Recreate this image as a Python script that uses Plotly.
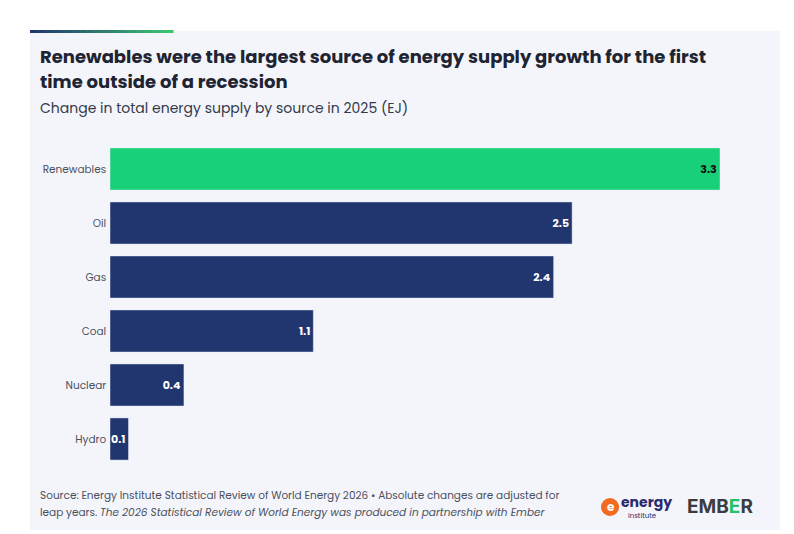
import plotly.graph_objects as go

categories = ["Renewables", "Oil", "Gas", "Coal", "Nuclear", "Hydro"]
values = [3.3, 2.5, 2.4, 1.1, 0.4, 0.1]
labels = ["3.3", "2.5", "2.4", "1.1", "0.4", "0.1"]
colors = ["#17d077", "#21356e", "#21356e", "#21356e", "#21356e", "#21356e"]
textcolors = ["#111111", "white", "white", "white", "white", "white"]

W, H = 794, 534
OFF = 8
L, R, T, B = 110 - OFF, 74 + OFF, 142 - OFF, 68 + OFF
def px(x): return (x - OFF - L) / (W - L - R)
def py(y): return (H - B - (y - OFF)) / (H - T - B)

fig = go.Figure(go.Bar(
    y=categories, x=values, orientation="h", marker_color=colors,
    text=labels, textposition="inside", insidetextanchor="end",
    textfont=dict(family="Poppins, Inter, sans-serif", size=11, color=textcolors, weight="bold"),
    cliponaxis=False, hoverinfo="skip"))

shapes = [dict(type="rect", xref="paper", yref="paper", x0=px(30), x1=px(780), y0=py(530), y1=py(31),
               fillcolor="#f4f5fa", line_width=0, layer="below")]
n = 20
c0 = (0x21, 0x35, 0x6e); c1 = (0x3d, 0xc4, 0x6f)
for i in range(n):
    t = i / (n - 1)
    c = tuple(int(c0[k] + (c1[k] - c0[k]) * t) for k in range(3))
    x0 = 30 + (173 - 30) * i / n; x1 = 30 + (173 - 30) * (i + 1) / n + 0.5
    shapes.append(dict(type="rect", xref="paper", yref="paper", x0=px(x0), x1=px(x1), y0=py(33), y1=py(30),
                       fillcolor="rgb(%d,%d,%d)" % c, line_width=0))
shapes.append(dict(type="circle", xref="paper", yref="paper", x0=px(601), x1=px(619), y0=py(516), y1=py(498),
                   fillcolor="#f26b21", line_width=0))

ann = []
def A(x, y, text, size, color="#1f2433", weight="normal", anchor="left", family="Poppins, Inter, sans-serif"):
    ann.append(dict(xref="paper", yref="paper", x=px(x), y=py(y), text=text, showarrow=False,
                    xanchor=anchor, yanchor="middle", font=dict(size=size, color=color, family=family, weight=weight)))
A(38, 57, "Renewables were the largest source of energy supply growth for the first", 18, weight="bold")
A(38, 81, "time outside of a recession", 18, weight="bold")
A(38, 108, "Change in total energy supply by source in 2025 (EJ)", 14, color="#333a4a")
A(38, 495, "Source: Energy Institute Statistical Review of World Energy 2026 • Absolute changes are adjusted for", 10.5, color="#4a5060")
A(38, 512, "leap years. <i>The 2026 Statistical Review of World Energy was produced in partnership with Ember</i>", 10.5, color="#4a5060")
A(605, 507, "e", 12, color="white", weight="bold")
A(619, 502, "energy", 14, color="#2a2a6e", weight="bold")
A(626, 515, "institute", 7, color="#2a2a6e")
A(685, 507, "EMB<span style='color:#1fc16b'>E</span>R", 19, color="#3a3d42", weight="bold", family="Inter, sans-serif")

fig.update_layout(
    width=W, height=H, margin=dict(l=L, r=R, t=T, b=B),
    paper_bgcolor="white", plot_bgcolor="rgba(0,0,0,0)",
    bargap=0.22, showlegend=False, shapes=shapes, annotations=ann,
    uniformtext=dict(minsize=11, mode="show"),
    xaxis=dict(range=[0, 3.3], visible=False),
    yaxis=dict(autorange="reversed", showgrid=False, zeroline=False, ticks="", ticksuffix=" ",
               tickfont=dict(size=10.5, color="#4a5060", family="Poppins, Inter, sans-serif")),
)
fig.write_html("out.html")
